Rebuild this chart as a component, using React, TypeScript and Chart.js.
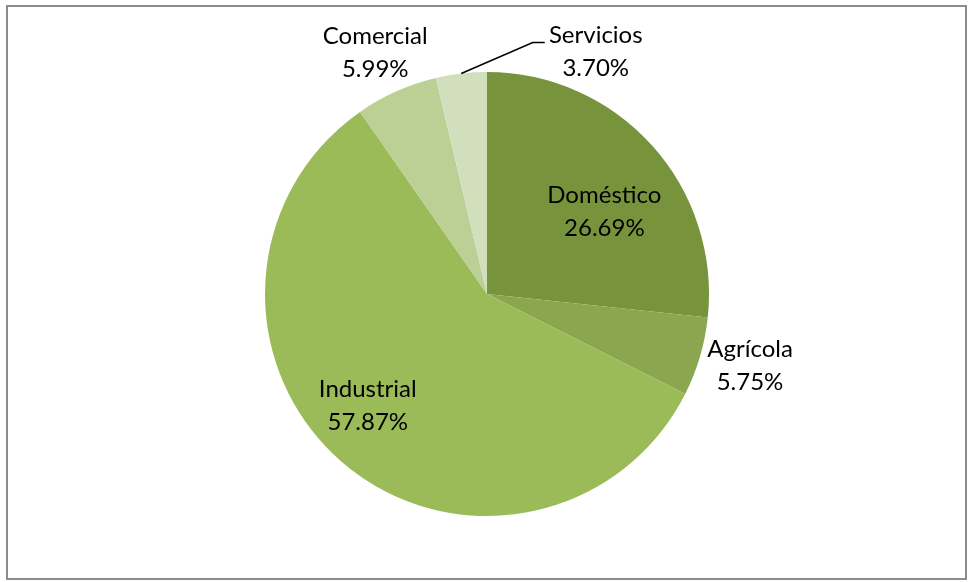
import React, { useEffect, useRef } from "react";
import { Chart, registerables } from "chart.js";

Chart.register(...registerables);

const categories = ["Doméstico", "Agrícola", "Industrial", "Comercial", "Servicios"];
const shares = [26.69, 5.75, 57.87, 5.99, 3.7];
const valueLabels = ["26.69%", "5.75%", "57.87%", "5.99%", "3.70%"];
const sliceColors = ["#77933c", "#8aa74f", "#9bbb59", "#bcd096", "#d2dfbd"];

const FONT = "24px Lato, 'Noto Sans', sans-serif";

const labelPlugin = {
  id: "pieLabels",
  beforeDraw(chart: any) {
    const ctx = chart.ctx;
    ctx.save();
    ctx.fillStyle = "#ffffff";
    ctx.fillRect(0, 0, chart.width, chart.height);
    ctx.strokeStyle = "#8c8c8c";
    ctx.lineWidth = 2;
    ctx.strokeRect(7, 6, 959, 573);
    ctx.restore();
  },
  afterDraw(chart: any) {
    const ctx = chart.ctx;
    const meta = chart.getDatasetMeta(0);
    // per-slice: [radius factor, dx, dy] for label placement
    const place: Record<number, [number, number, number]> = {
      0: [0.62, 15, 9.5],
      1: [1.2, 7.5, -4],
      2: [0.73, -13, -10.5],
      3: [1.2, -3, 2],
      4: [1.0, 0, 0],
    };
    ctx.save();
    ctx.font = FONT;
    ctx.fillStyle = "#000000";
    ctx.textAlign = "center";
    ctx.textBaseline = "middle";
    meta.data.forEach((arc: any, i: number) => {
      const { x, y, startAngle, endAngle, outerRadius } = arc.getProps(
        ["x", "y", "startAngle", "endAngle", "outerRadius"],
        true
      );
      const mid = (startAngle + endAngle) / 2;
      let lx: number, ly: number;
      if (i === 4) {
        // leader line label
        const ax = x + Math.cos(mid) * outerRadius;
        const ay = y + Math.sin(mid) * outerRadius;
        const bx = ax + 71.5;
        const by = ay - 31;
        ctx.beginPath();
        ctx.strokeStyle = "#000000";
        ctx.lineWidth = 1.5;
        ctx.moveTo(ax, ay);
        ctx.lineTo(bx, by);
        ctx.lineTo(bx + 12, by);
        ctx.stroke();
        lx = bx + 63;
        ly = by + 9.5;
      } else {
        const [f, dx, dy] = place[i];
        lx = x + Math.cos(mid) * outerRadius * f + dx;
        ly = y + Math.sin(mid) * outerRadius * f + dy;
      }
      ctx.fillText(categories[i], lx, ly - 16.5);
      ctx.fillText(valueLabels[i], lx, ly + 16.5);
    });
    ctx.restore();
  },
};

export default function App() {
  const ref = useRef<HTMLCanvasElement>(null);
  useEffect(() => {
    if (!ref.current) return;
    const chart = new Chart(ref.current, {
      type: "pie",
      data: {
        labels: categories,
        datasets: [
          {
            data: shares,
            backgroundColor: sliceColors,
            borderWidth: 0,
          },
        ],
      },
      options: {
        responsive: false,
        animation: false,
        layout: { padding: { left: 265, right: 260, top: 72, bottom: 66 } },
        plugins: {
          legend: { display: false },
          tooltip: { enabled: false },
        },
      },
      plugins: [labelPlugin],
    });
    return () => chart.destroy();
  }, []);
  return (
    <div style={{ position: "fixed", left: 0, top: 0, width: 969, height: 582 }}>
      <canvas ref={ref} width={969} height={582} style={{ width: 969, height: 582 }} />
    </div>
  );
}
